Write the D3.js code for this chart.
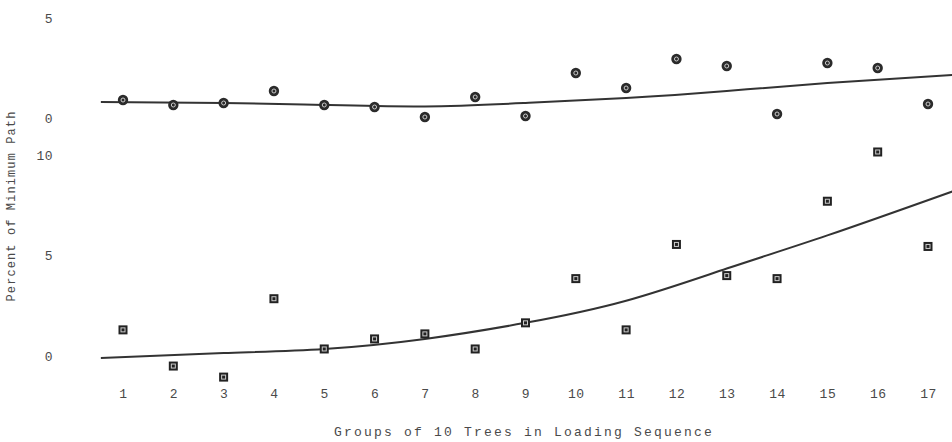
<!DOCTYPE html>
<html>
<head>
<meta charset="utf-8">
<script src="https://cdn.jsdelivr.net/npm/d3@7"></script>
<style>
  body { margin: 0; background: #fff; }
  svg { display: block; }
  .tick text { font-family: "Liberation Mono", monospace; font-size: 13px; fill: #4a4a4a; letter-spacing: 0.5px; }
  .title { font-family: "Liberation Mono", monospace; fill: #4a4a4a; }
  .fit { fill: none; stroke: #333; stroke-width: 2; }
</style>
</head>
<body>
<svg id="chart" width="952" height="442"></svg>
<script>
// groups of 10 trees
const groups = d3.range(1, 18);

// upper panel (circles)
const topValues = [0.9, 0.65, 0.75, 1.35, 0.65, 0.55, 0.05, 1.05, 0.1, 2.25, 1.5, 2.95, 2.6, 0.2, 2.75, 2.5, 0.7];
// lower panel (squares)
const bottomValues = [1.3, -0.5, -1.05, 2.85, 0.35, 0.85, 1.1, 0.35, 1.65, 3.85, 1.3, 5.55, 4.0, 3.85, 7.7, 10.15, 5.45];

// fitted curves
const fitX = [0.56, 3, 5, 7, 9, 11, 13, 15, 17.5];
const fitTop = [0.8, 0.75, 0.65, 0.58, 0.75, 1.0, 1.35, 1.75, 2.15];
const fitBottom = [-0.1, 0.15, 0.35, 0.85, 1.65, 2.75, 4.35, 6.0, 8.2];

const topTicks = [0, 5];
const bottomTicks = [0, 5, 10];

const svg = d3.select('#chart');

const x = d3.scaleLinear().domain([1, 17]).range([123, 928]);
const yTop = d3.scaleLinear().domain([0, 5]).range([118, 18]);
const yBottom = d3.scaleLinear().domain([0, 10]).range([356, 155]);

// axes
function leftAxis(scale, ticks) {
  return d3.axisLeft(scale).tickValues(ticks)
    .tickSize(0).tickPadding(7).tickFormat(d3.format('d'));
}

svg.append('g').attr('transform', 'translate(60,0)').call(leftAxis(yTop, topTicks))
  .call(g => g.select('.domain').remove());
svg.append('g').attr('transform', 'translate(60,0)').call(leftAxis(yBottom, bottomTicks))
  .call(g => g.select('.domain').remove());

svg.append('g').attr('transform', 'translate(0,386)')
  .call(d3.axisBottom(x).tickValues(groups).tickSize(0).tickPadding(3).tickFormat(d3.format('d')))
  .call(g => g.select('.domain').remove());

// titles
svg.append('text').attr('class', 'title')
  .attr('x', 524).attr('y', 436)
  .attr('text-anchor', 'middle')
  .style('font-size', '13px').style('letter-spacing', '2.2px')
  .text('Groups of 10 Trees in Loading Sequence');

svg.append('text').attr('class', 'title')
  .attr('transform', 'translate(15,206) rotate(-90)')
  .attr('text-anchor', 'middle')
  .style('font-size', '12px').style('letter-spacing', '1.1px')
  .text('Percent of Minimum Path');

// fitted lines
const lineTop = d3.line().x((d, i) => x(fitX[i])).y(d => yTop(d)).curve(d3.curveNatural);
const lineBottom = d3.line().x((d, i) => x(fitX[i])).y(d => yBottom(d)).curve(d3.curveNatural);

svg.append('path').attr('class', 'fit').attr('d', lineTop(fitTop));
svg.append('path').attr('class', 'fit').attr('d', lineBottom(fitBottom));

// circles
const circ = svg.selectAll('.circ')
  .data(topValues)
  .enter()
    .append('g')
    .attr('class', 'circ')
    .attr('transform', (d, i) => 'translate(' + x(groups[i]) + ',' + yTop(d) + ')');

circ.append('circle').attr('r', 5.2).attr('fill', '#2b2b2b');
circ.append('circle').attr('r', 2).attr('fill', 'none')
  .attr('stroke', '#ccc').attr('stroke-width', 1);

// squares
const sq = svg.selectAll('.sq')
  .data(bottomValues)
  .enter()
    .append('g')
    .attr('class', 'sq')
    .attr('transform', (d, i) => 'translate(' + x(groups[i]) + ',' + yBottom(d) + ')');

sq.append('rect').attr('x', -4.5).attr('y', -4.5).attr('width', 9).attr('height', 9).attr('fill', '#222');
sq.append('rect').attr('x', -2).attr('y', -2).attr('width', 4).attr('height', 4)
  .attr('fill', 'none').attr('stroke', '#ccc').attr('stroke-width', 1);
</script>
</body>
</html>
